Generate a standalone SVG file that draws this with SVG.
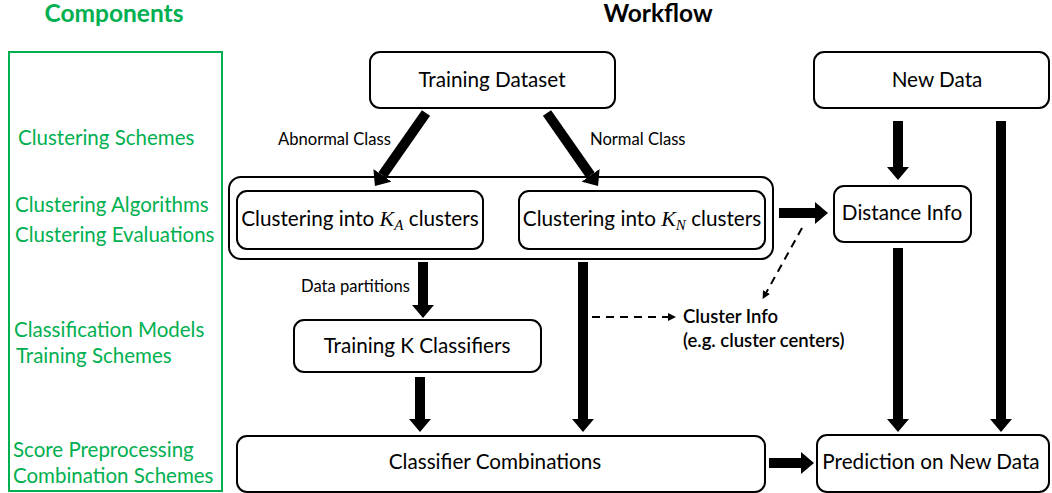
<svg xmlns="http://www.w3.org/2000/svg" width="1052" height="493" viewBox="0 0 1052 493">
<style>
.box{fill:#fff;stroke:#000;stroke-width:2}
.t{font-family:Lato,"Liberation Sans",sans-serif;font-size:20.7px;fill:#000;text-anchor:middle}
.lbl{font-family:Lato,"Liberation Sans",sans-serif;font-size:16.6px;fill:#000}
.g{font-family:Lato,"Liberation Sans",sans-serif;font-size:20.5px;fill:#00B050}
.h{font-family:Lato,"Liberation Sans",sans-serif;font-size:24.5px;font-weight:bold;text-anchor:middle}
.m{font-family:"Liberation Serif",serif;font-style:italic}
.thick{stroke:#000;stroke-width:10;fill:none;marker-end:url(#head)}
.dash{stroke:#000;stroke-width:2;fill:none;stroke-dasharray:8 6;marker-end:url(#small)}
.ci{font-family:Lato,"Liberation Sans",sans-serif;font-size:18.5px;font-weight:600;fill:#000}
</style>
<defs>
<marker id="head" markerUnits="userSpaceOnUse" viewBox="0 -11 13 22" refX="0" refY="0" markerWidth="13" markerHeight="22" orient="auto">
<path d="M0,-11 L13,0 L0,11 z" fill="#000"/>
</marker>
<marker id="small" markerUnits="userSpaceOnUse" viewBox="0 -4 8 8" refX="1" refY="0" markerWidth="8" markerHeight="8" orient="auto">
<path d="M0,-4 L8,0 L0,4 z" fill="#000"/>
</marker>
</defs>
<rect width="1052" height="493" fill="#fff"/>

<g id="headers">
<text class="h" x="114" y="22" fill="#00B050">Components</text>
<text class="h" x="658" y="22" fill="#000">Workflow</text>
</g>

<g id="components">
<rect x="9" y="52" width="213" height="439" fill="none" stroke="#00B050" stroke-width="2"/>
<text class="g" x="18" y="145">Clustering Schemes</text>
<text class="g" x="15" y="212">Clustering Algorithms</text>
<text class="g" x="15" y="242">Clustering Evaluations</text>
<text class="g" x="14" y="337">Classification Models</text>
<text class="g" x="16" y="363">Training Schemes</text>
<text class="g" x="13" y="457">Score Preprocessing</text>
<text class="g" x="13" y="483">Combination Schemes</text>
</g>

<g id="training-dataset">
<rect class="box" x="370" y="52" width="245" height="56" rx="10"/>
<text class="t" x="492" y="87">Training Dataset</text>
</g>

<g id="new-data">
<rect class="box" x="814" y="52" width="235" height="56" rx="10"/>
<text class="t" x="937" y="87">New Data</text>
</g>

<g id="clustering-group">
<rect class="box" x="229" y="177" width="544" height="82" rx="12"/>
</g>

<g id="cluster-a">
<rect class="box" x="237" y="191" width="246" height="58" rx="10"/>
<text class="t" x="360" y="226">Clustering into <tspan class="m" font-size="22">K</tspan><tspan class="m" font-size="15" dy="4">A</tspan><tspan dy="-4"> clusters</tspan></text>
</g>

<g id="cluster-n">
<rect class="box" x="519" y="191" width="246" height="58" rx="10"/>
<text class="t" x="642" y="226">Clustering into <tspan class="m" font-size="22">K</tspan><tspan class="m" font-size="15" dy="4">N</tspan><tspan dy="-4"> clusters</tspan></text>
</g>

<g id="distance-info">
<rect class="box" x="834" y="186" width="137" height="56" rx="10"/>
<text class="t" x="902" y="220">Distance Info</text>
</g>

<g id="training-k">
<rect class="box" x="294" y="320" width="247" height="52" rx="10"/>
<text class="t" x="417" y="353">Training K Classifiers</text>
</g>

<g id="cluster-info">
<text class="ci" x="683" y="323">Cluster Info</text>
<text class="ci" x="683" y="347">(e.g. cluster centers)</text>
</g>

<g id="classifier-combinations">
<rect class="box" x="237" y="436" width="528" height="56" rx="10"/>
<text class="t" x="495" y="469">Classifier Combinations</text>
</g>

<g id="prediction">
<rect class="box" x="817" y="435" width="232" height="57" rx="10"/>
<text class="t" x="931" y="469">Prediction on New Data</text>
</g>

<g id="connectors">
<line class="thick" x1="426" y1="113" x2="382.4" y2="175.3" stroke-width="11"/>
<line class="thick" x1="547" y1="113" x2="590.6" y2="175.3" stroke-width="11"/>
<text class="lbl" x="278" y="145">Abnormal Class</text>
<text class="lbl" x="590" y="145">Normal Class</text>
<line class="thick" x1="898" y1="121" x2="898" y2="167"/>
<line class="thick" x1="1001" y1="121" x2="1001" y2="419"/>
<line class="thick" x1="779" y1="213" x2="815" y2="213" stroke-width="12"/>
<line class="thick" x1="423" y1="262" x2="423" y2="305" stroke-width="8"/>
<text class="lbl" x="301" y="292">Data partitions</text>
<line class="thick" x1="583" y1="262" x2="583" y2="419" stroke-width="8"/>
<line class="thick" x1="420" y1="377" x2="420" y2="419" stroke-width="8"/>
<line class="thick" x1="898" y1="248" x2="898" y2="419"/>
<line class="thick" x1="769" y1="463" x2="801" y2="463" stroke-width="9"/>
<line class="dash" x1="592" y1="317" x2="669" y2="317"/>
<line class="dash" x1="802" y1="228" x2="766" y2="293"/>
</g>
</svg>
